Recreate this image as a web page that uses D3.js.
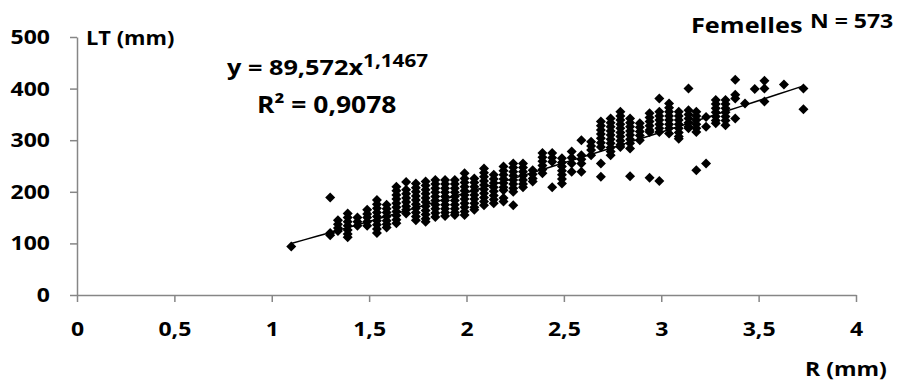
<!DOCTYPE html>
<html>
<head>
<meta charset="utf-8">
<script src="https://cdn.jsdelivr.net/npm/d3@7"></script>
<style>
  body { margin: 0; background: #fff; }
  svg { display: block; font-family: 'Open Sans', sans-serif; font-weight: 700; }
</style>
</head>
<body>
<figure id="scatter" style="margin:0"></figure>
<script>
// R (mm) value of each column of points
const colX = [1.10, 1.30, 1.34, 1.39, 1.44, 1.49, 1.54, 1.59, 1.64, 1.69,
  1.74, 1.79, 1.84, 1.89, 1.94, 1.99, 2.04, 2.09, 2.14, 2.19,
  2.24, 2.29, 2.34, 2.39, 2.44, 2.49, 2.54, 2.59, 2.64, 2.69,
  2.74, 2.79, 2.84, 2.89, 2.94, 2.99, 3.04, 3.09, 3.14, 3.18,
  3.23, 3.28, 3.33, 3.38, 3.43, 3.48, 3.53, 3.63, 3.73];

// LT (mm) values in each column
const colY = [
  [94],
  [189, 116, 120],
  [145, 137, 130, 124],
  [158, 150, 142, 134, 126, 118, 112],
  [150, 142, 134],
  [165, 157, 150, 142, 134],
  [184, 176, 168, 160, 152, 144, 136, 128, 120],
  [175, 167, 160, 152, 144, 137, 131],
  [210, 202, 194, 186, 178, 170, 162, 154, 146, 139],
  [219, 204, 196, 188, 180, 172, 165, 158],
  [216, 208, 200, 192, 184, 176, 168, 160, 152, 145],
  [220, 212, 204, 196, 188, 180, 172, 164, 156, 148, 142],
  [223, 215, 207, 199, 191, 183, 175, 167, 159, 151],
  [223, 215, 207, 199, 191, 183, 175, 167, 160, 153],
  [223, 215, 207, 199, 191, 183, 175, 167, 160, 155],
  [236, 226, 218, 210, 202, 194, 186, 178, 170, 162, 155],
  [226, 218, 210, 202, 194, 186, 178, 170, 165],
  [245, 237, 229, 221, 213, 205, 197, 189, 181, 174],
  [233, 225, 217, 209, 201, 193, 185, 178],
  [249, 241, 233, 225, 217, 209, 203, 188, 181],
  [255, 247, 239, 231, 223, 215, 207, 200, 174],
  [255, 247, 239, 231, 223, 215, 209],
  [242, 234, 226, 220],
  [275, 267, 259, 251, 243, 236],
  [275, 266, 258, 209],
  [265, 257, 249, 241, 233, 225, 216],
  [278, 266, 255, 239],
  [300, 271, 263, 255, 239],
  [297, 289, 281, 271],
  [336, 328, 320, 312, 304, 295, 287, 255, 229],
  [342, 334, 326, 318, 310, 302, 294, 286, 278, 271],
  [355, 347, 339, 331, 323, 315, 307, 299, 291, 287],
  [342, 334, 326, 318, 310, 302, 294, 284, 230],
  [333, 325, 317, 309, 300],
  [352, 344, 336, 328, 320, 316, 227],
  [381, 355, 347, 339, 331, 323, 316, 221],
  [371, 363, 355, 347, 339, 331, 323, 313],
  [355, 347, 339, 331, 323, 315, 307, 303],
  [400, 358, 350, 342, 334, 326, 323],
  [355, 347, 339, 331, 323, 316, 242],
  [345, 326, 255],
  [378, 370, 362, 354, 346, 338, 333],
  [378, 370, 362, 354, 346, 338, 329],
  [417, 388, 381, 342],
  [371],
  [399],
  [415, 400, 375],
  [408],
  [400, 360]
];

const xTicks = [0, 0.5, 1, 1.5, 2, 2.5, 3, 3.5, 4];
const yTicks = [0, 100, 200, 300, 400, 500];

// power trend line y = a * x^b
const trendA = 89.572;
const trendB = 1.1467;

const width = 914;
const height = 383;
const margin = { top: 37, right: 58, bottom: 88, left: 77 };
const axisColor = '#868686';
// the original picture is a bit stretched sideways, so texts are too
const stretch = 1.15;

const points = [];
colX.forEach((x, i) => colY[i].forEach((y) => points.push({ x: x, y: y })));

const svg = d3.select('figure#scatter')
  .append('svg')
  .attr('width', width)
  .attr('height', height);

const x = d3.scaleLinear().domain([0, 4]).range([margin.left, width - margin.right]);
const y = d3.scaleLinear().domain([0, 500]).range([height - margin.bottom, margin.top]);

const fmt = (d) => String(d).replace('.', ',');

// axes
const xAxis = svg.append('g')
  .attr('transform', 'translate(0,' + y(0) + ')')
  .call(d3.axisBottom(x).tickValues(xTicks).tickFormat(fmt).tickSize(7).tickPadding(20).tickSizeOuter(0));
const yAxis = svg.append('g')
  .attr('transform', 'translate(' + x(0) + ',0)')
  .call(d3.axisLeft(y).tickValues(yTicks).tickSize(7).tickPadding(20).tickSizeOuter(0));

[xAxis, yAxis].forEach((g) => {
  g.select('.domain').attr('stroke', axisColor).attr('stroke-width', 1.5);
  g.selectAll('.tick line').attr('stroke', axisColor).attr('stroke-width', 1.5);
  g.selectAll('.tick text')
    .attr('fill', '#000')
    .style('font-family', "'Open Sans', sans-serif")
    .style('font-weight', 700)
    .style('font-size', '20px');
});
// move the label offset into a transform so the stretch keeps its anchor
xAxis.selectAll('.tick text').each(function () {
  const t = d3.select(this);
  t.attr('transform', 'translate(0,' + t.attr('y') + ') scale(' + stretch + ',1)').attr('y', 0);
});
yAxis.selectAll('.tick text').each(function () {
  const t = d3.select(this);
  t.attr('transform', 'translate(' + t.attr('x') + ',0) scale(' + stretch + ',1)').attr('x', 0);
});

// points (diamonds)
const r = 5;
svg.append('g')
  .selectAll('path')
  .data(points)
  .enter()
  .append('path')
  .attr('d', `M0,${-r}L${r},0L0,${r}L${-r},0Z`)
  .attr('transform', (d) => 'translate(' + x(d.x) + ',' + y(d.y) + ')')
  .attr('fill', '#000');

// trend line over the range of the data
const xMin = d3.min(colX);
const xMax = d3.max(colX);
const trend = d3.range(0, 41).map((i) => {
  const xv = xMin + (xMax - xMin) * i / 40;
  return [xv, trendA * Math.pow(xv, trendB)];
});
svg.append('path')
  .datum(trend)
  .attr('fill', 'none')
  .attr('stroke', '#000')
  .attr('stroke-width', 1.5)
  .attr('d', d3.line().x((d) => x(d[0])).y((d) => y(d[1])));

// texts
function label(px, py, size) {
  return svg.append('text')
    .attr('transform', 'translate(' + px + ',' + py + ') scale(' + stretch + ',1)')
    .style('font-size', size + 'px');
}
label(86, 45, 19).text('LT (mm)');
label(805, 376, 20).text('R (mm)');
label(691, 33, 22).text('Femelles');
label(810, 28, 20).text('N = 573');

const eq = label(227, 75, 22);
eq.append('tspan').text('y = ' + fmt(trendA) + 'x');
eq.append('tspan').attr('dy', -8).style('font-size', '18px').text(fmt(trendB));
label(257, 113, 23).text('R² = 0,9078');
</script>
</body>
</html>
